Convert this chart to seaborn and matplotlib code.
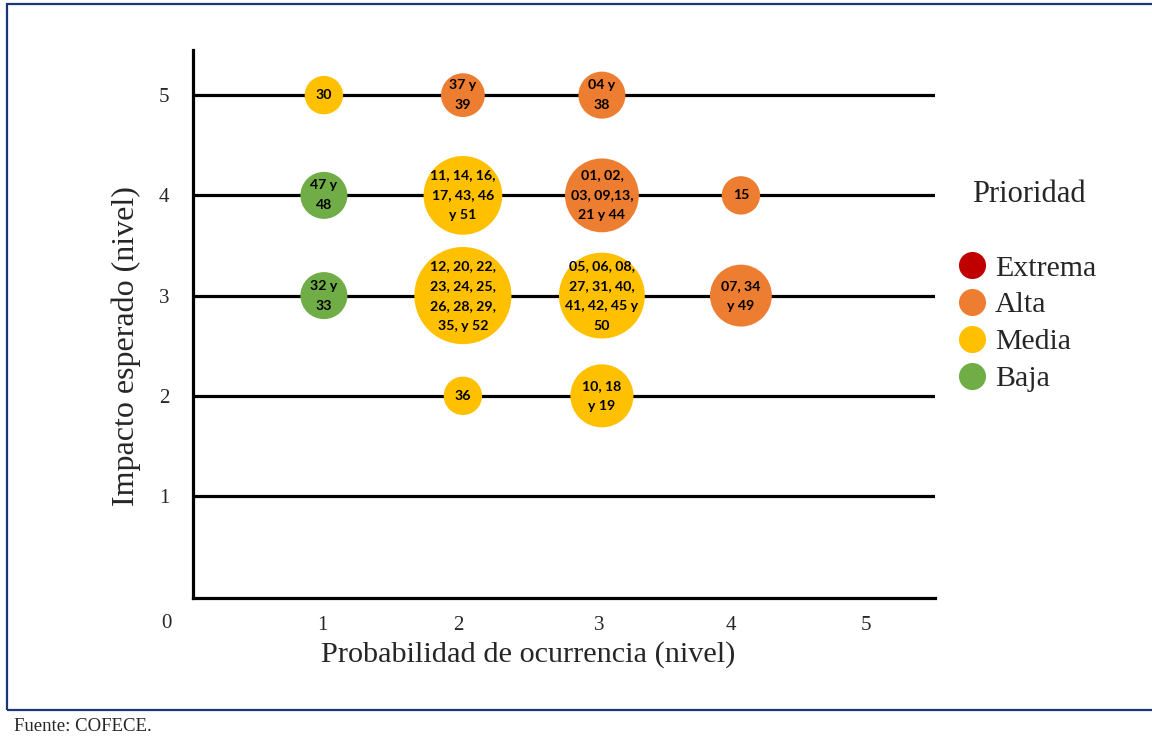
import matplotlib
matplotlib.use("Agg")
import matplotlib.pyplot as plt
import seaborn as sns
import pandas as pd
from matplotlib.lines import Line2D
from matplotlib.patches import Rectangle

# ---- data ----
probabilidad = [1, 2, 3, 1, 2, 3, 4, 1, 2, 3, 4, 2, 3]
impacto = [5, 5, 5, 4, 4, 4, 4, 3, 3, 3, 3, 2, 2]
prioridad = ["Media", "Alta", "Alta", "Baja", "Media", "Alta", "Alta",
             "Baja", "Media", "Media", "Alta", "Media", "Media"]
peso = [1.0, 1.3, 1.5, 1.5, 4.2, 3.7, 1.0, 1.5, 6.4, 5.0, 2.6, 1.0, 2.7]
etiquetas = [
    "30",
    "37 y\n39",
    "04 y\n38",
    "47 y\n48",
    "11, 14, 16,\n17, 43, 46\ny 51",
    "01, 02,\n03, 09,13,\n21 y 44",
    "15",
    "32 y\n33",
    "12, 20, 22,\n23, 24, 25,\n26, 28, 29,\n35, y 52",
    "05, 06, 08,\n27, 31, 40,\n41, 42, 45 y\n50",
    "07, 34\ny 49",
    "36",
    "10, 18\ny 19",
]
categorias = ["Extrema", "Alta", "Media", "Baja"]
colores = {"Extrema": "#C00000", "Alta": "#ED7D31", "Media": "#FFC000", "Baja": "#70AD47"}
niveles_y = [1, 2, 3, 4, 5]
ticks_x_labels = ["1", "2", "3", "4", "5"]

df = pd.DataFrame({"prob": probabilidad, "imp": impacto, "prioridad": prioridad,
                   "peso": peso, "etiqueta": etiquetas})

sns.set_style("white")
plt.rcParams["font.family"] = ["Liberation Serif", "DejaVu Serif"]

fig = plt.figure(figsize=(11.52, 7.38), dpi=100)
ax = fig.add_axes([0.1675, 0.1897, 0.8116 - 0.1675, 0.9322 - 0.1897])

for yv in niveles_y:
    ax.axhline(yv, color="black", lw=2.3, zorder=1)

unit = 764
sns.scatterplot(data=df, x="prob", y="imp", hue="prioridad", palette=colores,
                hue_order=categorias, size="peso", sizes=(0, unit * 6.4),
                size_norm=(0, 6.4), linewidth=0, legend=False, ax=ax,
                zorder=3, alpha=1)

for _, r in df.iterrows():
    ax.text(r["prob"], r["imp"], r["etiqueta"], ha="center", va="center",
            fontsize=10.2, fontweight="bold", family=["Lato", "DejaVu Sans"],
            linespacing=1.8, zorder=4, color="black")

ax.set_xlim(0.058, 5.396)
ax.set_ylim(-0.017, 5.45)

ax.set_xticks([0.99, 1.97, 2.98, 3.93, 4.90])
ax.set_xticklabels(ticks_x_labels)
ax.set_yticks(niveles_y)
ax.set_yticklabels([str(v) for v in niveles_y])
ax.tick_params(axis="both", length=0, labelsize=15)
ax.tick_params(axis="x", pad=13)
ax.tick_params(axis="y", pad=17)
ax.text(-0.131, -0.27, "0", ha="center", va="center", fontsize=15, clip_on=False)

ax.set_xlabel("Probabilidad de ocurrencia (nivel)", fontsize=21.8)
ax.xaxis.set_label_coords(0.4515, -0.079)
ax.set_ylabel("Impacto esperado (nivel)", fontsize=23)
ax.yaxis.set_label_coords(-0.070, 0.46)

for s in ["top", "right"]:
    ax.spines[s].set_visible(False)
for s in ["left", "bottom"]:
    ax.spines[s].set_color("black")
    ax.spines[s].set_linewidth(2.3)

# legend
handles = [Line2D([0], [0], marker="o", linestyle="", markersize=19.5,
                  markerfacecolor=colores[c], markeredgewidth=0, label=c)
           for c in categorias]
fig.legend(handles=handles, loc="upper left", bbox_to_anchor=(0.8307, 0.655),
           frameon=False, fontsize=21.5, handletextpad=0.27, labelspacing=0.335,
           borderpad=0, borderaxespad=0, handlelength=1.0)
fig.text(0.8932, 0.7358, "Prioridad", ha="center", va="center", fontsize=22)

# frame border
fig.patches.append(Rectangle((0.0061, 0.038), 1.1, 0.9566, transform=fig.transFigure,
                             fill=False, edgecolor="#1A3578", lw=1.6))
fig.text(0.012, 0.016, "Fuente: COFECE.", ha="left", va="center", fontsize=13.5)

fig.savefig("out.png", dpi=100)
